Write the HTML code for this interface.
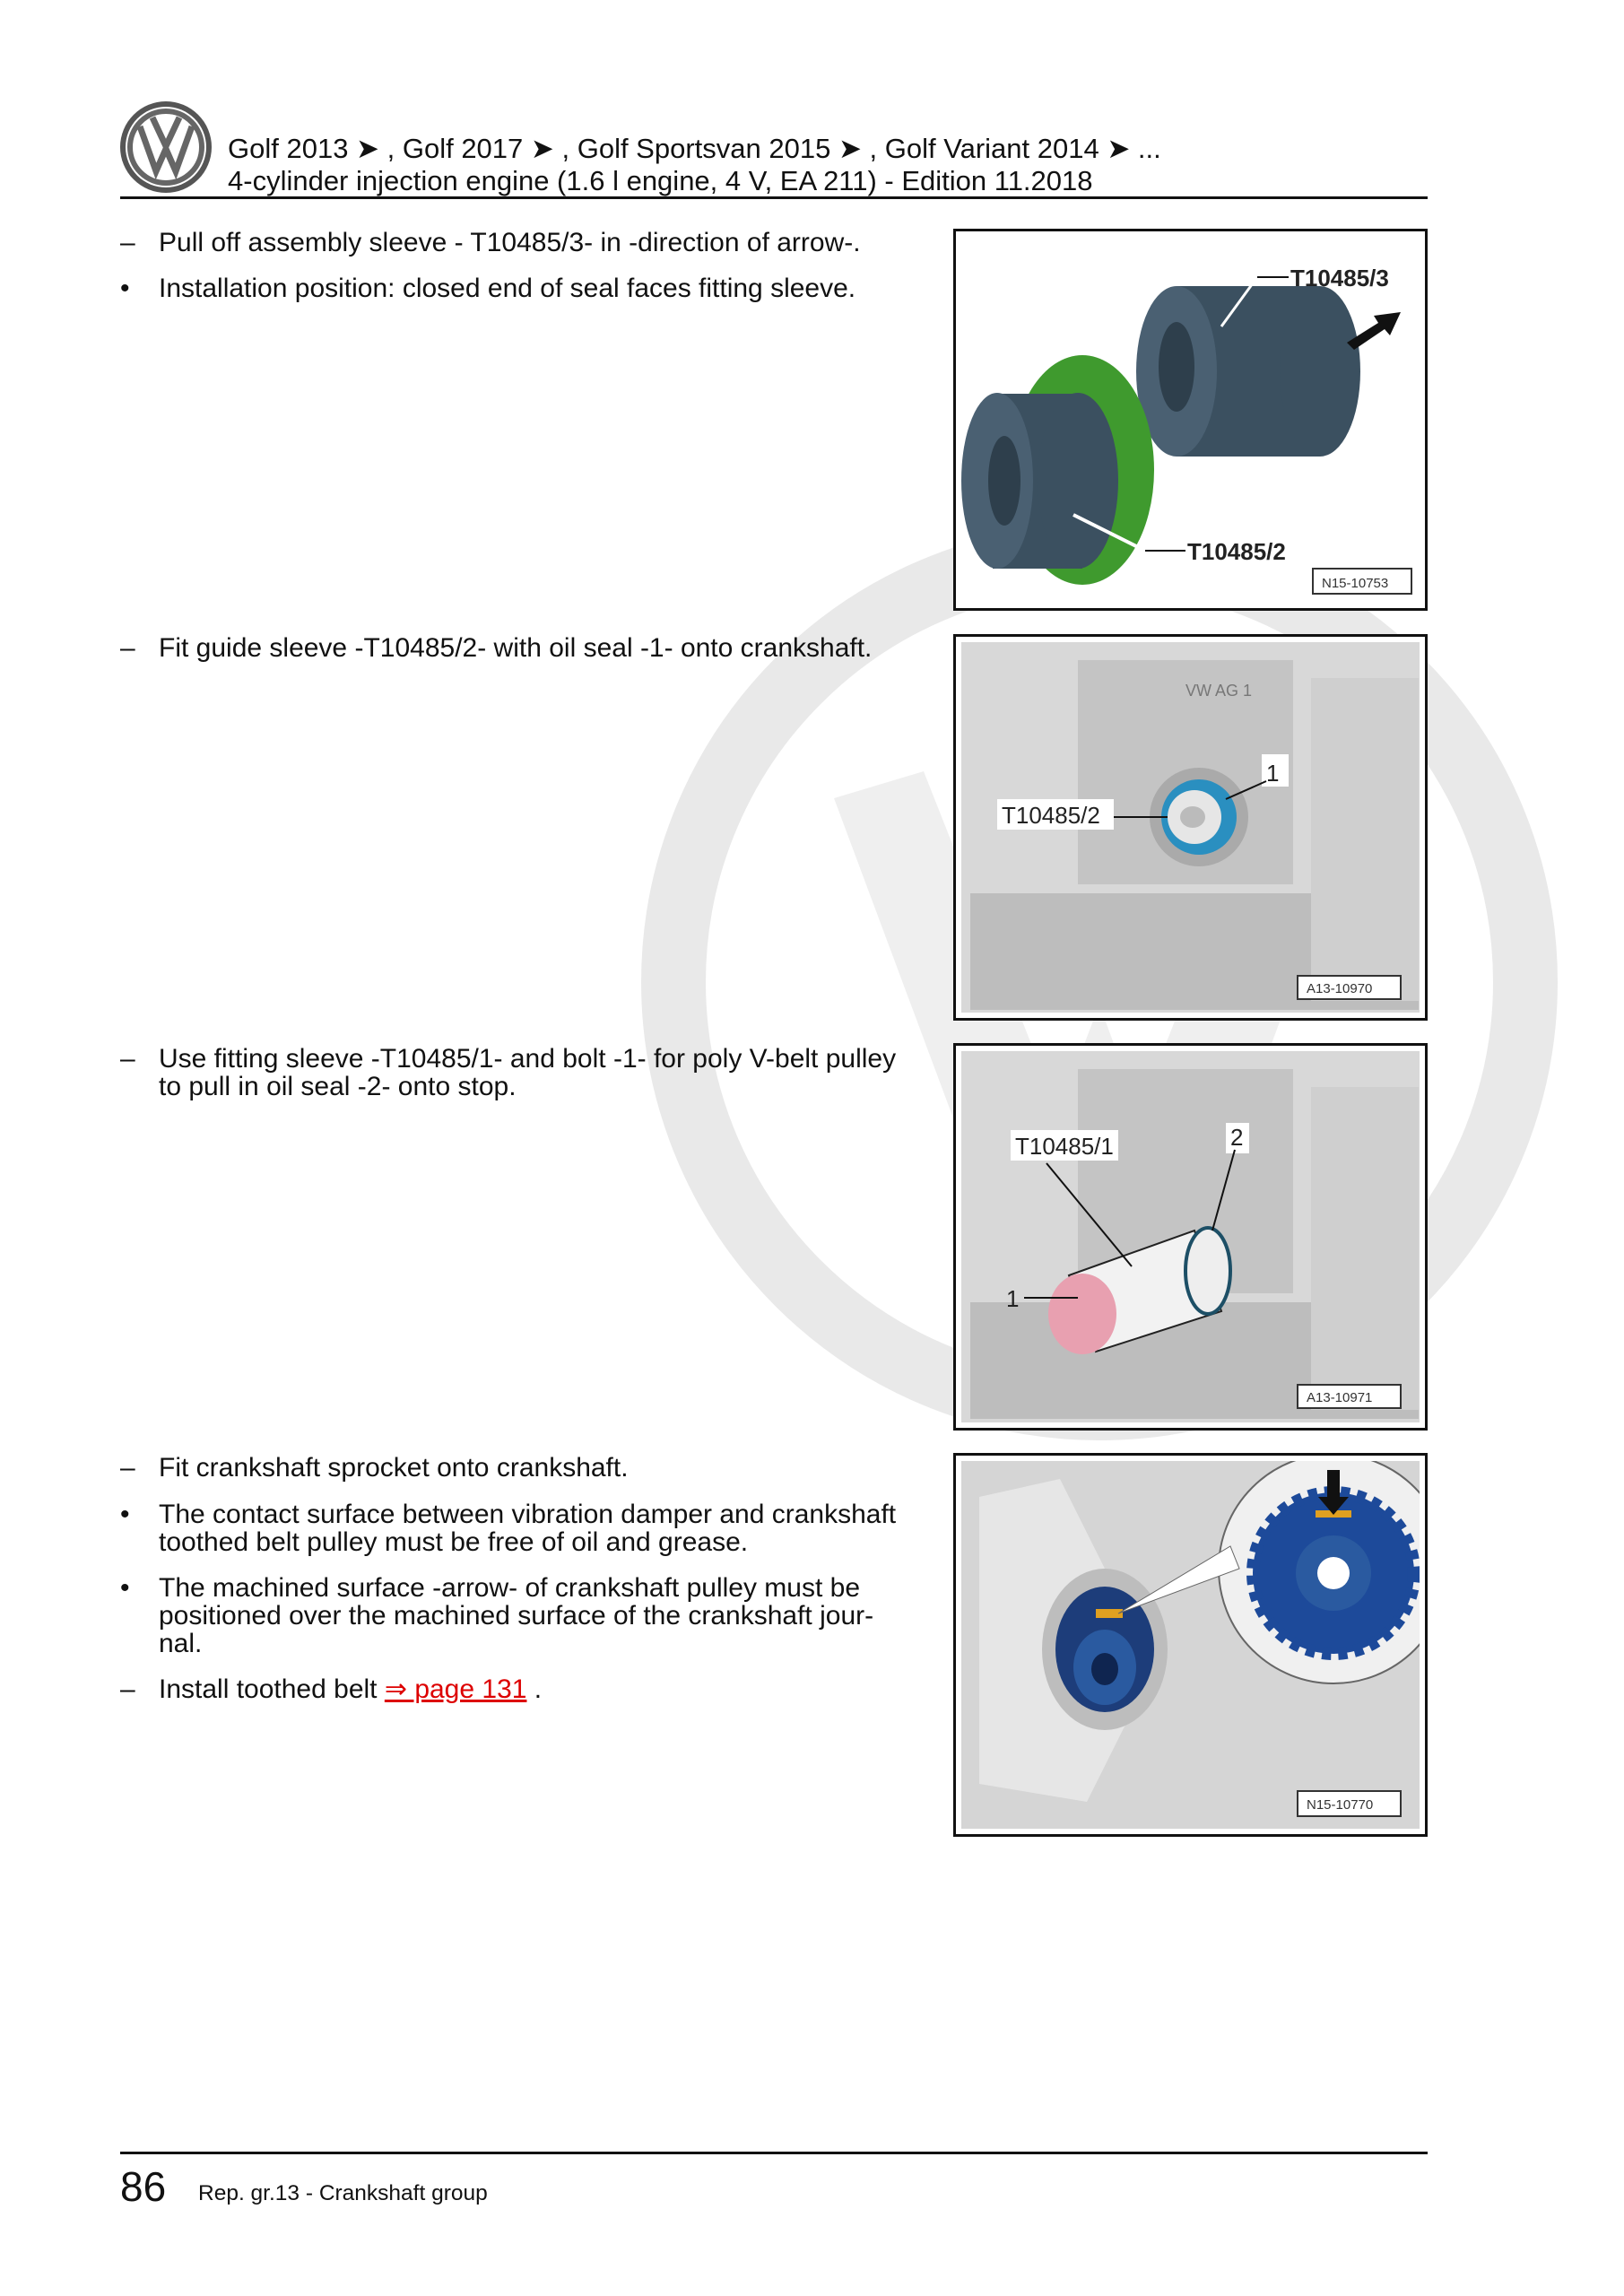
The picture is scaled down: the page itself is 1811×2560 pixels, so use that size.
<!DOCTYPE html>
<html><head><meta charset="utf-8">
<style>
html,body{margin:0;padding:0;background:#fff;}
body{width:1811px;height:2560px;position:relative;overflow:hidden;font-family:"Liberation Sans",Arial,sans-serif;color:#111;}
.t{position:absolute;font-size:30px;line-height:31px;white-space:nowrap;}
.m{position:absolute;left:134px;font-size:30px;line-height:31px;}
.fig{position:absolute;left:1063px;width:529px;border:3px solid #111;box-sizing:border-box;background:#fff;overflow:hidden;}
.fig svg{position:absolute;left:6px;top:6px;}
a{color:#d00;text-decoration:underline;}
</style></head><body>

<!-- watermark -->
<svg style="position:absolute;left:0;top:0" width="1811" height="2560">
 <circle cx="1226" cy="1095" r="475" fill="none" stroke="#e9e9e9" stroke-width="72"/>
 <polygon points="930,890 1030,860 1180,1240 1226,1120 1270,1240 1420,860 1520,890 1300,1480 1226,1300 1150,1480" fill="#efefef"/>
</svg>

<!-- header -->
<svg style="position:absolute;left:132px;top:111px" width="106" height="106">
 <circle cx="53" cy="53" r="51" fill="#555"/>
 <circle cx="53" cy="53" r="45" fill="#fff"/>
 <circle cx="53" cy="53" r="40" fill="none" stroke="#666" stroke-width="6"/>
 <polyline points="24,30 42,80 53,55 64,80 82,30" fill="none" stroke="#666" stroke-width="7"/>
 <polyline points="38,20 53,52 68,20" fill="none" stroke="#666" stroke-width="7"/>
</svg>
<div class="t" style="left:254px;top:150px;font-size:31px">Golf 2013 ➤ , Golf 2017 ➤ , Golf Sportsvan 2015 ➤ , Golf Variant 2014 ➤ ...</div>
<div class="t" style="left:254px;top:186px;font-size:31px">4-cylinder injection engine (1.6 l engine, 4 V, EA 211) - Edition 11.2018</div>
<div style="position:absolute;left:134px;top:219px;width:1458px;height:3px;background:#111"></div>

<!-- text blocks -->
<div class="m" style="top:255px">–</div><div class="t" style="left:177px;top:255px">Pull off assembly sleeve - T10485/3- in -direction of arrow-.</div>
<div class="m" style="top:306px">•</div><div class="t" style="left:177px;top:306px">Installation position: closed end of seal faces fitting sleeve.</div>

<div class="m" style="top:707px">–</div><div class="t" style="left:177px;top:707px">Fit guide sleeve -T10485/2- with oil seal -1- onto crankshaft.</div>

<div class="m" style="top:1165px">–</div><div class="t" style="left:177px;top:1165px">Use fitting sleeve -T10485/1- and bolt -1- for poly V-belt pulley<br>to pull in oil seal -2- onto stop.</div>

<div class="m" style="top:1621px">–</div><div class="t" style="left:177px;top:1621px">Fit crankshaft sprocket onto crankshaft.</div>
<div class="m" style="top:1673px">•</div><div class="t" style="left:177px;top:1673px">The contact surface between vibration damper and crankshaft<br>toothed belt pulley must be free of oil and grease.</div>
<div class="m" style="top:1755px">•</div><div class="t" style="left:177px;top:1755px">The machined surface -arrow- of crankshaft pulley must be<br>positioned over the machined surface of the crankshaft jour-<br>nal.</div>
<div class="m" style="top:1868px">–</div><div class="t" style="left:177px;top:1868px">Install toothed belt <a>⇒ page 131</a> .</div>

<!-- fig 1 -->
<div class="fig" style="top:255px;height:426px">
<svg width="511" height="408">
 <rect width="511" height="408" fill="#fff"/>
 <!-- right cylinder -->
 <rect x="240" y="55" width="160" height="190" fill="#3b5060"/>
 <ellipse cx="400" cy="150" rx="45" ry="95" fill="#3b5060"/>
 <ellipse cx="240" cy="150" rx="45" ry="95" fill="#4a6072"/>
 <ellipse cx="240" cy="145" rx="20" ry="50" fill="#2e3f4c"/>
 <!-- left piece -->
 <ellipse cx="135" cy="260" rx="80" ry="128" fill="#3f9a2e"/>
 <rect x="35" y="175" width="100" height="195" fill="#3b5060"/>
 <ellipse cx="130" cy="272" rx="45" ry="98" fill="#3b5060"/>
 <ellipse cx="40" cy="272" rx="40" ry="98" fill="#4a6072"/>
 <ellipse cx="48" cy="272" rx="18" ry="50" fill="#2e3f4c"/>
 <polygon points="430,118 465,96 460,88 490,84 478,110 472,103 438,126" fill="#111"/>
 <line x1="290" y1="100" x2="330" y2="45" stroke="#fff" stroke-width="3"/>
 <line x1="330" y1="45" x2="365" y2="45" stroke="#111" stroke-width="2"/>
 <text x="367" y="55" font-size="26" font-weight="bold" fill="#222">T10485/3</text>
 <line x1="125" y1="310" x2="205" y2="350" stroke="#fff" stroke-width="4"/>
 <line x1="205" y1="350" x2="250" y2="350" stroke="#111" stroke-width="2"/>
 <text x="252" y="360" font-size="26" font-weight="bold" fill="#222">T10485/2</text>
 <rect x="392" y="370" width="110" height="28" fill="#fff" stroke="#333" stroke-width="2"/>
 <text x="402" y="391" font-size="15" fill="#333">N15-10753</text>
</svg></div>

<!-- fig 2 -->
<div class="fig" style="top:707px;height:431px">
<svg width="511" height="413">
 <rect width="511" height="413" fill="#d8d8d8"/>
 <rect x="130" y="20" width="240" height="250" fill="#c4c4c4"/>
 <rect x="10" y="280" width="500" height="130" fill="#bdbdbd"/>
 <rect x="390" y="40" width="120" height="360" fill="#cfcfcf"/>
 <text x="250" y="60" font-size="18" fill="#777">VW AG 1</text>
 <ellipse cx="265" cy="195" rx="55" ry="55" fill="#aaa"/>
 <ellipse cx="265" cy="195" rx="42" ry="42" fill="#2a8fc0"/>
 <ellipse cx="260" cy="195" rx="30" ry="30" fill="#e6e6e6"/>
 <ellipse cx="258" cy="195" rx="14" ry="12" fill="#bbb"/>
 <rect x="40" y="175" width="130" height="34" fill="#fff"/>
 <text x="45" y="202" font-size="26" fill="#222">T10485/2</text>
 <line x1="170" y1="195" x2="230" y2="195" stroke="#111" stroke-width="2"/>
 <rect x="335" y="125" width="30" height="36" fill="#fff"/>
 <text x="340" y="155" font-size="26" fill="#222">1</text>
 <line x1="340" y1="155" x2="295" y2="175" stroke="#111" stroke-width="2"/>
 <rect x="375" y="372" width="115" height="26" fill="#fff" stroke="#333" stroke-width="2"/>
 <text x="385" y="391" font-size="15" fill="#333">A13-10970</text>
</svg></div>

<!-- fig 3 -->
<div class="fig" style="top:1163px;height:432px">
<svg width="511" height="414">
 <rect width="511" height="414" fill="#d8d8d8"/>
 <rect x="130" y="20" width="240" height="250" fill="#c4c4c4"/>
 <rect x="10" y="280" width="500" height="130" fill="#bdbdbd"/>
 <rect x="390" y="40" width="120" height="360" fill="#cfcfcf"/>
 <polygon points="120,250 260,200 290,290 150,335" fill="#f2f2f2" stroke="#222" stroke-width="2"/>
 <ellipse cx="275" cy="245" rx="25" ry="48" fill="#eee" stroke="#1d4f66" stroke-width="4"/>
 <ellipse cx="135" cy="293" rx="38" ry="45" fill="#e8a0b0"/>
 <rect x="55" y="88" width="120" height="34" fill="#fff"/>
 <text x="60" y="115" font-size="26" fill="#222">T10485/1</text>
 <line x1="95" y1="125" x2="190" y2="240" stroke="#111" stroke-width="2"/>
 <rect x="295" y="80" width="26" height="34" fill="#fff"/>
 <text x="300" y="105" font-size="26" fill="#222">2</text>
 <line x1="305" y1="110" x2="280" y2="200" stroke="#111" stroke-width="2"/>
 <text x="50" y="285" font-size="26" fill="#222">1</text>
 <line x1="70" y1="275" x2="130" y2="275" stroke="#111" stroke-width="2"/>
 <rect x="375" y="372" width="115" height="26" fill="#fff" stroke="#333" stroke-width="2"/>
 <text x="385" y="391" font-size="15" fill="#333">A13-10971</text>
</svg></div>

<!-- fig 4 -->
<div class="fig" style="top:1620px;height:428px">
<svg width="511" height="410">
 <rect width="511" height="410" fill="#d5d5d5"/>
 <path d="M20,40 L110,20 L160,120 L200,260 L140,380 L20,360 Z" fill="#e6e6e6"/>
 <ellipse cx="160" cy="210" rx="70" ry="90" fill="#bdbdbd"/>
 <ellipse cx="160" cy="210" rx="55" ry="70" fill="#1d3d7a"/>
 <ellipse cx="160" cy="230" rx="35" ry="42" fill="#2a5aa0"/>
 <ellipse cx="160" cy="232" rx="15" ry="18" fill="#0f2550"/>
 <rect x="150" y="165" width="30" height="10" fill="#e0a020"/>
 <circle cx="415" cy="120" r="128" fill="#f0f0f0" stroke="#666" stroke-width="2"/>
 <circle cx="415" cy="125" r="90" fill="#1d4a9a" stroke="#1d4a9a" stroke-width="14" stroke-dasharray="10 8"/>
 <circle cx="415" cy="125" r="42" fill="#2a5aa0"/>
 <circle cx="415" cy="125" r="18" fill="#fff"/>
 <rect x="395" y="55" width="40" height="8" fill="#e0a020"/>
 <polygon points="408,10 422,10 422,40 432,40 415,60 398,40 408,40" fill="#111"/>
 <polygon points="175,170 300,95 310,120" fill="#fff" stroke="#666"/>
 <rect x="375" y="368" width="115" height="28" fill="#fff" stroke="#333" stroke-width="2"/>
 <text x="385" y="388" font-size="15" fill="#333">N15-10770</text>
</svg></div>

<!-- footer -->
<div style="position:absolute;left:134px;top:2399px;width:1458px;height:3px;background:#111"></div>
<div class="t" style="left:134px;top:2413px;font-size:46px;line-height:50px">86</div>
<div class="t" style="left:221px;top:2430px;font-size:24.5px">Rep. gr.13 - Crankshaft group</div>
</body></html>
